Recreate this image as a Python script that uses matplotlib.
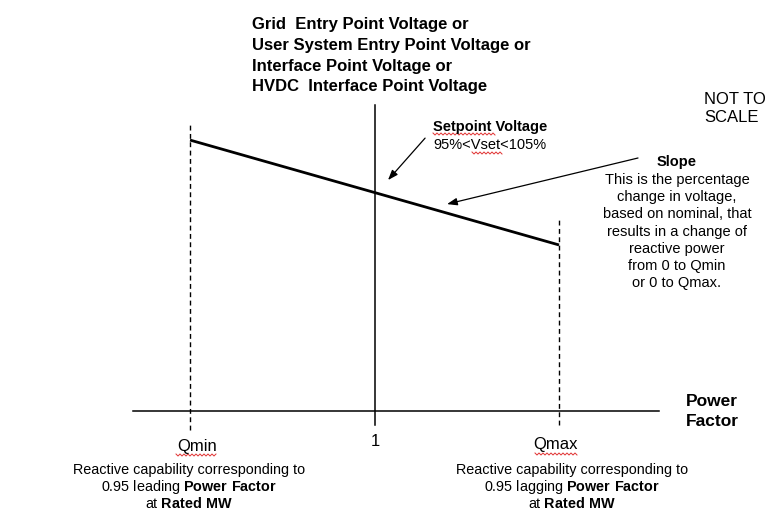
import numpy as np
import matplotlib
matplotlib.use('Agg')
import matplotlib.pyplot as plt
import matplotlib.transforms as mtransforms

plt.rcParams['font.family'] = ['Liberation Sans', 'DejaVu Sans']
plt.rcParams['mathtext.fontset'] = 'custom'
plt.rcParams['mathtext.rm'] = 'Liberation Sans'
plt.rcParams['mathtext.bf'] = 'Liberation Sans:bold'

# reactive power in per unit of capability: Qmin = -1, unity PF = 0, Qmax = +1
q_points = [-1.0, 0.0, 1.0]
q_labels = ['Qmin', '1', 'Qmax']
# voltage along the droop line, relative to the setpoint (1.0)
v_droop = [1.24, 1.00, 0.76]
# extents of the axes and of the dashed capability limits
q_axis = [-1.31, 1.54]
v_axis = [-0.064, 1.40]
v_qmin_limit = [-0.087, 1.31]
v_qmax_limit = [-0.064, 0.874]

title_lines = [
    'Grid  Entry Point Voltage or',
    'User System Entry Point Voltage or',
    'Interface Point Voltage or',
    'HVDC  Interface Point Voltage',
]
slope_lines = [
    'This is the percentage',
    'change in voltage,',
    'based on nominal, that',
    'results in a change of',
    'reactive power',
    'from 0 to Qmin',
    'or 0 to Qmax.',
]

fig = plt.figure(figsize=(7.69, 5.12), dpi=100)
ax = fig.add_axes([0, 0, 1, 1])
ax.set_xlim(-2.030, 2.138)
ax.set_ylim(-0.462, 1.881)
ax.axis('off')

# pixel positions measured from the top-left corner, for text layout
px = mtransforms.Affine2D().scale(1 / 769, -1 / 512).translate(0, 1) + fig.transFigure

# axes
ax.plot(q_axis, [0, 0], color='black', lw=1.1)
ax.plot([q_points[1], q_points[1]], v_axis, color='black', lw=1.1)

# capability limits
dash = (0, (3.5, 2.5))
ax.plot([q_points[0]] * 2, v_qmin_limit, color='black', lw=1.0, linestyle=dash)
ax.plot([q_points[2]] * 2, v_qmax_limit, color='black', lw=1.0, linestyle=dash)

# droop characteristic
ax.plot(q_points, v_droop, color='black', lw=2.0, solid_capstyle='butt')

arrow = dict(arrowstyle='-|>,head_length=0.6,head_width=0.22', color='black', lw=0.9,
             shrinkA=0, shrinkB=0)
ax.annotate('', xy=(0.073, 1.057), xytext=(0.274, 1.249), arrowprops=arrow)
ax.annotate('', xy=(0.393, 0.947), xytext=(1.428, 1.158), arrowprops=arrow)

# vertical axis title
for i, line in enumerate(title_lines):
    ax.text(252, 25 + i * 20.5, line, transform=px, fontsize=12, fontweight='bold',
            ha='left', va='center')

ax.text(704, 100, 'NOT TO', transform=px, fontsize=12, ha='left', va='center')
ax.text(704, 118, 'SCALE', transform=px, fontsize=12, ha='left', va='center')

ax.text(433, 127, 'Setpoint Voltage', transform=px, fontsize=10.5, fontweight='bold',
        ha='left', va='center')
ax.text(433, 145, '95%<Vset<105%', transform=px, fontsize=10.5, ha='left', va='center')

ax.text(677, 162, 'Slope', transform=px, fontsize=10.5, fontweight='bold',
        ha='center', va='center')
for i, line in enumerate(slope_lines):
    ax.text(677, 180 + i * 17.2, line, transform=px, fontsize=10.5,
            ha='center', va='center')

ax.text(686, 401, 'Power', transform=px, fontsize=12.5, fontweight='bold',
        ha='left', va='center')
ax.text(686, 421, 'Factor', transform=px, fontsize=12.5, fontweight='bold',
        ha='left', va='center')

# labels under the horizontal axis
ax.text(197, 446, q_labels[0], transform=px, fontsize=12, ha='center', va='center')
ax.text(375, 441, q_labels[1], transform=px, fontsize=12, ha='center', va='center')
ax.text(555, 445, q_labels[2], transform=px, fontsize=12, ha='center', va='center')

for cx, mode in [(189, 'leading'), (572, 'lagging')]:
    ax.text(cx, 470, 'Reactive capability corresponding to', transform=px,
            fontsize=10.4, ha='center', va='center')
    ax.text(cx, 487, r'0.95 %s $\mathbf{Power\ Factor}$' % mode, transform=px,
            fontsize=10.4, ha='center', va='center')
    ax.text(cx, 504, r'at $\mathbf{Rated\ MW}$', transform=px,
            fontsize=10.4, ha='center', va='center')

# spell-check squiggles under a few words
for x0, x1, y in [(433, 495, 134), (472, 503, 153), (176, 217, 455), (535, 577, 454)]:
    xs = np.arange(x0, x1 + 1, 2)
    ys = y + np.where(np.arange(len(xs)) % 2 == 0, -1.0, 1.0)
    ax.plot(xs, ys, transform=px, color='#e03030', lw=0.7)

fig.savefig('out.png', dpi=100, facecolor='white')
